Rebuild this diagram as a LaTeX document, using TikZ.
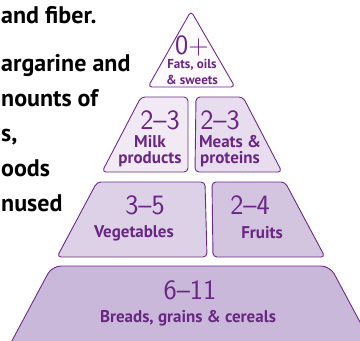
\documentclass[tikz,border=0pt]{standalone}
\usepackage{fontspec}
\setmainfont{PT Sans}
\usetikzlibrary{positioning}
\definecolor{pyrline}{HTML}{6E2A86}
\definecolor{pyrtext}{HTML}{6A2683}
\definecolor{fatsfill}{HTML}{FCFAFD}
\definecolor{milkfill}{HTML}{F1EAF5}
\definecolor{meatfill}{HTML}{E7DDEE}
\definecolor{vegfill}{HTML}{DDD1E7}
\definecolor{fruitfill}{HTML}{D3C4E0}
\definecolor{breadfill}{HTML}{C9B8D9}
\tikzset{
  tier/.style={
    draw = pyrline,
    line width = 0.9pt,
    rounded corners = 4pt,
    line join = round
  },
  servings/.style={
    text = pyrtext,
    inner sep = 0pt,
    font = \sffamily\fontsize{28}{28}\selectfont
  },
  foodname/.style={
    text = pyrtext,
    inner sep = 0pt,
    align = center,
    font = \bfseries\fontsize{17}{16}\selectfont
  },
  smallname/.style={
    foodname,
    font = \bfseries\fontsize{13}{16}\selectfont
  },
  bodyline/.style={
    anchor = base west,
    inner sep = 0pt,
    font = \bfseries\fontsize{24}{24}\selectfont
  },
}
\begin{document}
\begin{tikzpicture}[x=1pt,y=-1pt]
\useasboundingbox (0,0) rectangle (360,341);
\clip (0,0) rectangle (360,341);
% running text, cut at the left edge
\foreach \txt/\ypos [count=\i] in {{and fiber.}/23,{argarine and}/71,{nounts of}/106,{s,}/141,{oods}/176,{nused}/211}{
  \node[bodyline] (body\i) at (1,\ypos) {\txt};
}
% pyramid tiers
\draw[tier,fill=fatsfill] (191,11) -- (235,87) -- (148,87) -- cycle;
\draw[tier,fill=milkfill] (141,97) -- (188,97) -- (188,172) -- (102,172) -- cycle;
\draw[tier,fill=meatfill] (196,97) -- (243,97) -- (282,172) -- (195,172) -- cycle;
\draw[tier,fill=vegfill] (97,182) -- (205,182) -- (207,257) -- (57,257) -- cycle;
\draw[tier,fill=fruitfill] (212,182) -- (285,182) -- (325,257) -- (213,257) -- cycle;
\draw[tier,fill=breadfill,rounded corners=9pt] (52,266) -- (330,266) -- (375,350) -- (7,350) -- cycle;
% servings and food groups
\node[servings] (fatsnum) at (192,46) {0+};
\node[smallname] (fats) at (192,72) {Fats, oils\\\& sweets};
\node[servings] (milknum) at (160,120) {2\textendash3};
\node[foodname] (milk) at (150,151) {Milk\\products};
\node[servings] (meatnum) at (220,120) {2\textendash3};
\node[foodname] (meat) at (230,151) {Meats \&\\proteins};
\node[servings] (vegnum) at (145,205) {3\textendash5};
\node[foodname] (veg) at (134,233) {Vegetables};
\node[servings] (fruitnum) at (250,205) {2\textendash4};
\node[foodname] (fruit) at (262,233) {Fruits};
\node[servings] (breadnum) at (190,290) {6\textendash11};
\node[foodname] (bread) at (188,318) {Breads, grains \& cereals};
\end{tikzpicture}
\end{document}
